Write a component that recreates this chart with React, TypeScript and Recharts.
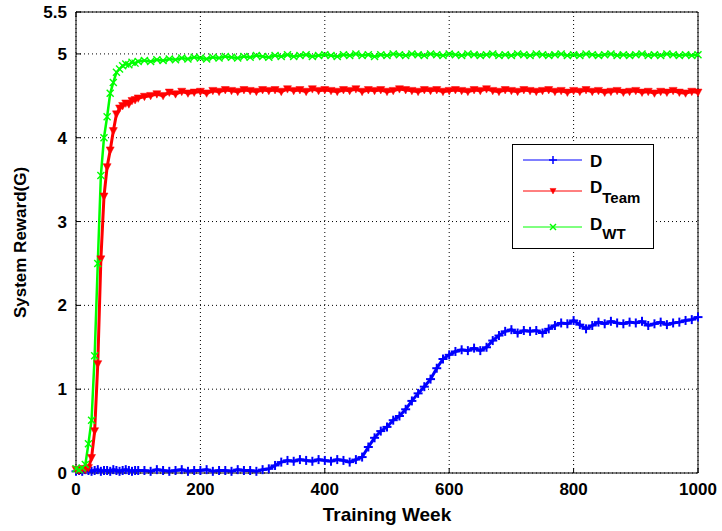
// System reward vs training week, three reward variants (MATLAB-style plot)
import React from 'react';
import { LineChart, Line, XAxis, YAxis, CartesianGrid, Legend } from 'recharts';

const weeks = [
  0, 5, 10, 15, 20, 25, 30, 35, 40, 45, 50, 55, 60, 65, 70, 75, 80, 85, 90, 95, 100,
  110, 120, 130, 140, 150, 160, 170, 180, 190, 200, 210, 220, 230, 240, 250, 260, 270, 280, 290, 300, 310,
  320, 330, 340, 350, 360, 370, 380, 390, 400, 410, 420, 430, 440, 450, 460, 470, 480, 490, 500,
  510, 520, 530, 540, 550, 560, 570, 580, 590, 600, 610, 620, 630, 640, 650, 660, 670, 680, 690, 700,
  710, 720, 730, 740, 750, 760, 770, 780, 790, 800, 810, 820, 830, 840, 850, 860, 870, 880, 890, 900,
  910, 920, 930, 940, 950, 960, 970, 980, 990, 1000,
];

const rewardD = [
  0.02, 0.03, 0.02, 0.04, 0.03, 0.02, 0.03, 0.04, 0.02, 0.03, 0.03, 0.02, 0.04, 0.03, 0.02, 0.03, 0.04, 0.03, 0.02, 0.03, 0.03,
  0.03, 0.02, 0.04, 0.03, 0.02, 0.03, 0.04, 0.02, 0.03, 0.03, 0.04, 0.02, 0.03, 0.03, 0.02, 0.04, 0.03, 0.03, 0.02, 0.04, 0.05,
  0.09, 0.13, 0.15, 0.14, 0.16, 0.15, 0.14, 0.16, 0.15, 0.14, 0.16, 0.15, 0.13, 0.16, 0.19, 0.31, 0.42, 0.5, 0.55,
  0.63, 0.68, 0.76, 0.86, 0.95, 1.03, 1.12, 1.25, 1.36, 1.41, 1.45, 1.47, 1.46, 1.49, 1.46, 1.5, 1.58, 1.64, 1.69, 1.71,
  1.67, 1.7, 1.69, 1.7, 1.67, 1.72, 1.76, 1.79, 1.78, 1.82, 1.77, 1.72, 1.76, 1.8, 1.78, 1.81, 1.79, 1.78, 1.8, 1.79,
  1.81, 1.76, 1.78, 1.8, 1.77, 1.79, 1.8, 1.82, 1.83, 1.86,
];

const rewardTeam = [
  0.04, 0.03, 0.05, 0.04, 0.06, 0.18, 0.5, 1.3, 2.55, 3.3, 3.65, 3.85, 4.08, 4.28, 4.35, 4.38, 4.41, 4.4, 4.44, 4.45, 4.47,
  4.49, 4.5, 4.52, 4.5, 4.54, 4.52, 4.55, 4.53, 4.54, 4.55, 4.53, 4.56, 4.55, 4.57, 4.56, 4.55, 4.57, 4.56, 4.55, 4.57, 4.56,
  4.57, 4.55, 4.58, 4.56, 4.57, 4.55, 4.58, 4.56, 4.57, 4.56, 4.55, 4.57, 4.56, 4.58, 4.55, 4.57, 4.56, 4.57, 4.55,
  4.56, 4.58, 4.57, 4.56, 4.55, 4.57, 4.56, 4.57, 4.55, 4.56, 4.57, 4.56, 4.55, 4.57, 4.56, 4.58, 4.56, 4.55, 4.57, 4.56,
  4.55, 4.57, 4.56, 4.55, 4.56, 4.57, 4.55, 4.56, 4.54, 4.56, 4.55, 4.57, 4.55, 4.56, 4.54, 4.55, 4.56, 4.54, 4.55, 4.56,
  4.54, 4.55, 4.53, 4.55, 4.54, 4.56, 4.54, 4.53, 4.55, 4.54,
];

const rewardWT = [
  0.05, 0.04, 0.06, 0.1, 0.35, 0.63, 1.4, 2.5, 3.55, 4.0, 4.25, 4.53, 4.66, 4.78, 4.82, 4.86, 4.88, 4.87, 4.9, 4.89, 4.91,
  4.92, 4.91, 4.93, 4.92, 4.94, 4.93, 4.95, 4.94, 4.96, 4.95, 4.94, 4.96, 4.95, 4.97, 4.96, 4.95, 4.97, 4.96, 4.98, 4.97, 4.96,
  4.98, 4.97, 4.99, 4.97, 4.98, 4.99, 4.97, 4.98, 4.99, 4.98, 4.97, 4.99, 4.98, 5.0, 4.98, 4.99, 4.97, 4.99, 4.98,
  5.0, 4.99, 4.98, 5.0, 4.99, 4.98, 5.0, 4.99, 4.98, 5.0, 4.99, 4.98, 5.0, 4.99, 4.98, 4.99, 5.0, 4.98, 4.99, 4.98,
  5.0, 4.99, 4.98, 5.0, 4.99, 4.98, 4.99, 5.0, 4.98, 4.99, 4.98, 5.0, 4.99, 4.98, 4.99, 5.0, 4.98, 4.99, 4.98, 4.99,
  5.0, 4.98, 4.99, 4.98, 5.0, 4.99, 4.98, 4.99, 4.98, 4.99,
];

const xTicks = [0, 200, 400, 600, 800, 1000];
const yTicks = [0, 1, 2, 3, 4, 5, 5.5];

const data = weeks.map((w, i) => ({
  week: w,
  d: rewardD[i],
  team: rewardTeam[i],
  wt: rewardWT[i],
}));

const FONT = '"Liberation Sans", Arial, Helvetica, sans-serif';
const BLUE = '#0000ff';
const RED = '#ff0000';
const GREEN = '#00ff00';

const PlusMark = ({ cx, cy, s = 4.5, w = 2 }: any) => (
  <g>
    <line x1={cx - s} y1={cy} x2={cx + s} y2={cy} stroke={BLUE} strokeWidth={w} />
    <line x1={cx} y1={cy - s} x2={cx} y2={cy + s} stroke={BLUE} strokeWidth={w} />
  </g>
);

const TriMark = ({ cx, cy, s = 4 }: any) => (
  <polygon
    points={`${cx - s},${cy - s * 0.85} ${cx + s},${cy - s * 0.85} ${cx},${cy + s}`}
    fill={RED}
    stroke={RED}
    strokeWidth={0.5}
  />
);

const XMark = ({ cx, cy, s = 3.5 }: any) => (
  <g>
    <line x1={cx - s} y1={cy - s} x2={cx + s} y2={cy + s} stroke={GREEN} strokeWidth={1.4} />
    <line x1={cx - s} y1={cy + s} x2={cx + s} y2={cy - s} stroke={GREEN} strokeWidth={1.4} />
  </g>
);

function LegendBox() {
  return (
    <svg width={142} height={105} style={{ display: 'block' }}>
      <rect x={0.5} y={0.5} width={141} height={104} fill="#fff" stroke="#000" />
      <line x1={11} y1={16} x2={70} y2={16} stroke={BLUE} />
      <PlusMark cx={41} cy={16} s={4} w={1.5} />
      <text x={78} y={23} fontFamily={FONT} fontWeight="bold" fontSize={17}>D</text>

      <line x1={11} y1={47} x2={70} y2={47} stroke={RED} />
      <TriMark cx={41} cy={47} s={3} />
      <text x={78} y={49} fontFamily={FONT} fontWeight="bold" fontSize={17}>
        D<tspan fontSize={15} dy={10}>Team</tspan>
      </text>

      <line x1={11} y1={83} x2={70} y2={83} stroke={GREEN} />
      <XMark cx={41} cy={83} s={3} />
      <text x={78} y={86} fontFamily={FONT} fontWeight="bold" fontSize={17}>
        D<tspan fontSize={15} dy={9}>WT</tspan>
      </text>
    </svg>
  );
}

const tickStyle = { fill: '#000', fontSize: 17, fontWeight: 'bold', fontFamily: FONT };

export default function App() {
  return (
    <div style={{ position: 'absolute', left: 0, top: 0, width: 722, height: 531, background: '#fff' }}>
      <LineChart width={722} height={531} data={data} margin={{ top: 0, right: 0, left: 0, bottom: 0 }}>
        <CartesianGrid stroke="#000" strokeDasharray="1 3" strokeWidth={1} />
        <XAxis
          dataKey="week"
          type="number"
          domain={[0, 1000]}
          ticks={xTicks}
          interval={0}
          height={58}
          stroke="#000"
          tickSize={-5}
          tickMargin={15}
          tick={tickStyle}
          label={{
            content: ({ viewBox }: any) => (
              <text
                x={viewBox.x + viewBox.width / 2}
                y={viewBox.y + 48}
                textAnchor="middle"
                fontFamily={FONT}
                fontWeight="bold"
                fontSize={19}
                fill="#000"
              >
                Training Week
              </text>
            ),
          }}
        />
        <XAxis
          xAxisId="top"
          orientation="top"
          type="number"
          domain={[0, 1000]}
          ticks={xTicks}
          interval={0}
          height={12}
          stroke="#000"
          tickSize={-5}
          tickFormatter={() => ''}
        />
        <YAxis
          type="number"
          domain={[0, 5.5]}
          ticks={yTicks}
          interval={0}
          width={76}
          stroke="#000"
          tickSize={-5}
          tickMargin={14}
          tick={tickStyle}
          label={{
            content: ({ viewBox }: any) => {
              const cx = 22;
              const cy = viewBox.y + viewBox.height / 2;
              return (
                <text
                  x={cx}
                  y={cy}
                  transform={`rotate(-90 ${cx} ${cy})`}
                  textAnchor="middle"
                  dominantBaseline="middle"
                  fontFamily={FONT}
                  fontWeight="bold"
                  fontSize={17}
                  fill="#000"
                >
                  System Reward(G)
                </text>
              );
            },
          }}
        />
        <YAxis
          yAxisId="right"
          orientation="right"
          type="number"
          domain={[0, 5.5]}
          ticks={yTicks}
          interval={0}
          width={24}
          stroke="#000"
          tickSize={-5}
          tickFormatter={() => ''}
        />
        <Legend
          layout="vertical"
          align="center"
          verticalAlign="middle"
          content={() => <LegendBox />}
          wrapperStyle={{ left: 512, top: 144, width: 142, height: 105 }}
        />
        <Line
          type="linear"
          dataKey="d"
          stroke={BLUE}
          strokeWidth={3}
          dot={(p: any) => <PlusMark key={`d-${p.index}`} cx={p.cx} cy={p.cy} />}
          isAnimationActive={false}
        />
        <Line
          type="linear"
          dataKey="team"
          stroke={RED}
          strokeWidth={3}
          dot={(p: any) => <TriMark key={`t-${p.index}`} cx={p.cx} cy={p.cy} />}
          isAnimationActive={false}
        />
        <Line
          type="linear"
          dataKey="wt"
          stroke={GREEN}
          strokeWidth={2.5}
          dot={(p: any) => <XMark key={`w-${p.index}`} cx={p.cx} cy={p.cy} />}
          isAnimationActive={false}
        />
      </LineChart>
    </div>
  );
}
